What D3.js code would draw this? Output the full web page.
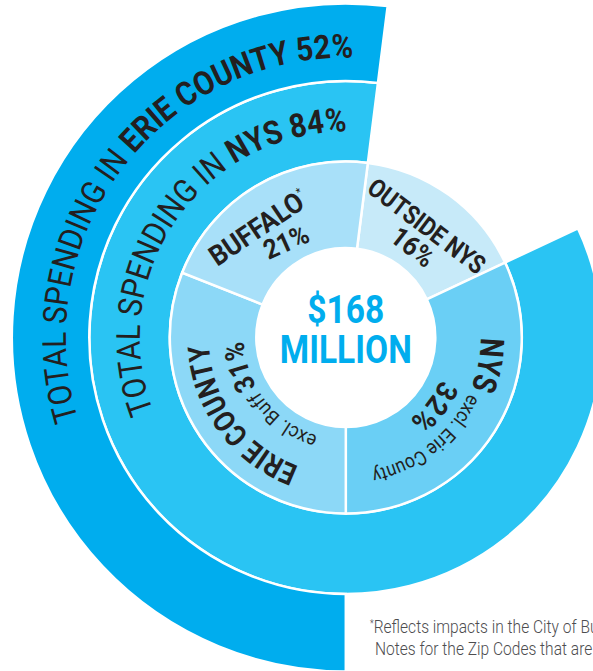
<!DOCTYPE html>
<html>
<head>
<meta charset="utf-8">
<script src="https://cdn.jsdelivr.net/npm/d3@7"></script>
<style>
  html, body { margin: 0; padding: 0; background: #fff; overflow: hidden; }
  svg { display: block; }
  text { white-space: pre; }
</style>
</head>
<body>
<svg id="chart" width="593" height="671"></svg>
<script>
// Regions, clockwise from the top of the wheel
const regions = ["OUTSIDE NYS", "NYS", "ERIE COUNTY", "BUFFALO"];
const regionNotes = ["", "excl. Erie County", "excl. Buff ", "*"];
const regionShares = [16, 32, 31, 21];

// Aggregate rings; each one covers the last regions of the list above
const ringLead = ["TOTAL SPENDING IN ", "TOTAL SPENDING IN "];
const ringPlaces = ["NYS", "ERIE COUNTY"];
const ringShares = [84, 52];

const totalLines = ["$168", "MILLION"];
const footnoteLines = ["Reflects impacts in the City of Buffalo. See Methodology",
                       "Notes for the Zip Codes that are included."];

// ---- layout ----
const cx = 345.8, cy = 337.5;
const rHole = 89.5, rRegion = 176, rNys = 256.5, rErie = 334;
const FONT = "Roboto, 'Liberation Sans', Arial, sans-serif";
const INK = "#231F20";
const BLUE = "#00ADEE";
const regionColors = ["#C7EAF9", "#6ACFF5", "#8CD8F7", "#A8E0F9"];
const ringColors = ["#2AC4F3", "#00ADEE"];

const TAU = 2 * Math.PI;
const rad = d => d * Math.PI / 180;
const pct = d => d + "%";

const svg = d3.select("#chart");
const defs = svg.append("defs");
const g = svg.append("g").attr("transform", `translate(${cx},${cy})`);

// the wheel is turned so that the NYS / Erie County boundary points straight down
const start = Math.PI - (regionShares[0] + regionShares[1]) / 100 * TAU;
const end = start + TAU;
const slices = d3.pie().sort(null).value(d => d).startAngle(start).endAngle(end)(regionShares);

const rings = ringShares.map((s, i) => ({
  startAngle: end - s / 100 * TAU,
  endAngle: end,
  innerRadius: [rRegion, rNys][i],
  outerRadius: [rNys, rErie][i],
  color: ringColors[i]
}));

g.selectAll("path.ring")
  .data(rings)
  .join("path")
  .attr("class", "ring")
  .attr("d", d3.arc())
  .attr("fill", d => d.color)
  .attr("stroke", "#fff")
  .attr("stroke-width", 2.5)
  .attr("stroke-linejoin", "miter");

const regionArc = d3.arc().innerRadius(rHole).outerRadius(rRegion);
g.selectAll("path.region")
  .data(slices)
  .join("path")
  .attr("class", "region")
  .attr("d", regionArc)
  .attr("fill", (d, i) => regionColors[i])
  .attr("stroke", "#fff")
  .attr("stroke-width", 2.5);

g.append("circle").attr("r", rHole - 1.25).attr("fill", "#fff");

// ---- text helpers ----
// arc running clockwise, angles in degrees from 12 o'clock
function arcPath(r, a0, a1) {
  const p = d3.path();
  p.arc(0, 0, r, rad(a0) - Math.PI / 2, rad(a1) - Math.PI / 2, false);
  return p.toString();
}

function curvedLabel(id, r, a0, a1, parts, opt) {
  const centred = opt.middle != null;
  const p0 = centred ? opt.middle - 90 : a0;
  const p1 = centred ? opt.middle + 90 : a0 + 170;
  defs.append("path").attr("id", id).attr("d", arcPath(r, p0, p1));
  const t = g.append("text").attr("font-family", FONT).attr("fill", INK);
  const tp = t.append("textPath").attr("href", "#" + id);
  if (centred) tp.attr("startOffset", "50%").attr("text-anchor", "middle");
  parts.forEach(p => tp.append("tspan")
    .attr("font-size", p.size)
    .attr("font-weight", p.weight)
    .text(p.text));
  const len = centred ? opt.length : r * rad(a1 - a0);
  tp.attr("textLength", len).attr("lengthAdjust", "spacingAndGlyphs");
  return t;
}

function straightLabel(angle, r, rot, size, squeeze, parts) {
  const x = r * Math.sin(rad(angle)), y = -r * Math.cos(rad(angle));
  const t = g.append("text")
    .attr("transform", `translate(${x},${y}) rotate(${rot}) scale(${squeeze},1)`)
    .attr("text-anchor", "middle")
    .attr("dy", "0.36em")
    .attr("font-family", FONT)
    .attr("font-weight", 700)
    .attr("font-size", size)
    .attr("fill", INK);
  parts.forEach(p => {
    const s = t.append("tspan").text(p.text);
    if (p.sup) s.attr("font-size", size * 0.42).attr("font-weight", 400).attr("baseline-shift", "110%");
  });
}

// ---- ring titles ----
curvedLabel("ring-nys", 206, 249, 360.3, [
  { text: ringLead[0], size: 33, weight: 400 },
  { text: ringPlaces[0] + " " + pct(ringShares[0]), size: 33, weight: 700 }
], {});
curvedLabel("ring-erie", 280, 253, 361.5, [
  { text: ringLead[1], size: 33, weight: 400 },
  { text: ringPlaces[1] + " " + pct(ringShares[1]), size: 33, weight: 700 }
], {});

// ---- region labels ----
straightLabel(36, 138, 37, 26, 0.86, [{ text: regions[0] }]);
straightLabel(36.5, 113, 38, 27, 0.92, [{ text: pct(regionShares[0]) }]);

curvedLabel("reg-nys", 135, 90, 112, [
  { text: regions[1], size: 33, weight: 700 }
], {});
curvedLabel("reg-nys-note", 135, 114.5, 169, [
  { text: regionNotes[1], size: 20, weight: 400 }
], {});
curvedLabel("reg-nys-pct", 104, 0, 0, [
  { text: pct(regionShares[1]), size: 29, weight: 700 }
], { middle: 128, length: 52 });

curvedLabel("reg-erie", 137, 0, 0, [
  { text: regions[2], size: 30, weight: 700 }
], { middle: 233.5, length: 160 });
curvedLabel("reg-erie-pct", 102, 0, 0, [
  { text: regionNotes[2], size: 20, weight: 400 },
  { text: pct(regionShares[2]), size: 28, weight: 700 }
], { middle: 232, length: 128 });

straightLabel(321.5, 141, -34, 28, 0.92, [{ text: regions[3] }, { text: regionNotes[3], sup: true }]);
straightLabel(328, 113, -24, 27, 0.92, [{ text: pct(regionShares[3]) }]);

// ---- centre total ----
totalLines.forEach((line, i) => {
  g.append("text")
    .attr("transform", `translate(0,${[-14.5, 25.5][i]}) scale(0.86,1)`)
    .attr("text-anchor", "middle")
    .attr("font-family", FONT)
    .attr("font-weight", 700)
    .attr("font-size", 39)
    .attr("fill", BLUE)
    .text(line);
});

// ---- footnote ----
const foot = svg.append("g").attr("transform", "translate(370,0) scale(0.865,1)");
footnoteLines.forEach((line, i) => {
  const t = foot.append("text")
    .attr("x", i === 0 ? 0 : 5.7)
    .attr("y", [633, 655][i])
    .attr("font-family", FONT)
    .attr("font-weight", 300)
    .attr("font-size", 18)
    .attr("fill", "#4D4D4F");
  if (i === 0) t.append("tspan").attr("font-size", 10).attr("baseline-shift", "70%").text("*");
  t.append("tspan").attr("baseline-shift", "0").text(line);
});
</script>
</body>
</html>
